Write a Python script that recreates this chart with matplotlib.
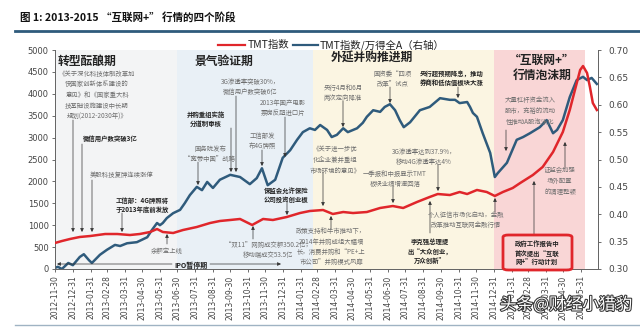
import numpy as np
import pandas as pd
import matplotlib
matplotlib.use('Agg')
import matplotlib.pyplot as plt
from matplotlib.patches import FancyBboxPatch
import matplotlib.patheffects as pe

plt.rcParams['font.family'] = ['Noto Sans CJK SC', 'DejaVu Sans']

# ---------------- data ----------------
tmt_dates = ['2012-11-30', '2012-12-12', '2012-12-26', '2013-01-12', '2013-01-30', '2013-02-25',
             '2013-03-18', '2013-04-09', '2013-04-26', '2013-05-14', '2013-05-26', '2013-06-05',
             '2013-06-23', '2013-07-10', '2013-08-03', '2013-08-26', '2013-09-12', '2013-09-30',
             '2013-10-17', '2013-11-07', '2013-11-26', '2013-12-13', '2014-01-06', '2014-01-29',
             '2014-02-15', '2014-03-10', '2014-03-27', '2014-04-14', '2014-05-01', '2014-05-25',
             '2014-06-17', '2014-07-09', '2014-07-27', '2014-08-20', '2014-09-11', '2014-09-25',
             '2014-10-16', '2014-11-02', '2014-11-15', '2014-12-02', '2014-12-19', '2015-01-02',
             '2015-01-16', '2015-02-02', '2015-02-15', '2015-03-09', '2015-03-26', '2015-04-13',
             '2015-04-30', '2015-05-12', '2015-05-21', '2015-05-30', '2015-06-04', '2015-06-11',
             '2015-06-16', '2015-06-21', '2015-06-28']
tmt_index = [594, 639, 685, 731, 753, 799, 799, 776, 799, 845, 913, 845,
             822, 890, 959, 1050, 1096, 1119, 1142, 1005, 1142, 1119, 1187, 1278,
             1324, 1347, 1256, 1301, 1278, 1301, 1393, 1438, 1393, 1530, 1644, 1712,
             1689, 1758, 1712, 1804, 1758, 1667, 1758, 1849, 1963, 2146, 2329, 2671,
             3128, 3630, 4087, 4543, 4634, 4475, 4155, 3790, 3630]

ratio_dates = ['2012-11-30', '2012-12-05', '2012-12-12', '2012-12-23', '2012-12-31', '2013-01-12',
               '2013-01-19', '2013-01-28', '2013-02-02', '2013-02-16', '2013-02-28', '2013-03-14',
               '2013-03-23', '2013-04-04', '2013-04-21', '2013-05-09', '2013-05-17', '2013-05-26',
               '2013-05-31', '2013-06-05', '2013-06-12', '2013-06-23', '2013-07-05', '2013-07-13',
               '2013-07-22', '2013-08-03', '2013-08-12', '2013-08-21', '2013-08-31', '2013-09-12',
               '2013-09-30', '2013-10-17', '2013-11-03', '2013-11-15', '2013-11-24', '2013-12-04',
               '2013-12-17', '2013-12-30', '2014-01-12', '2014-01-24', '2014-02-03', '2014-02-15',
               '2014-02-24', '2014-03-05', '2014-03-17', '2014-03-25', '2014-04-03', '2014-04-14',
               '2014-04-22', '2014-05-08', '2014-05-18', '2014-05-25', '2014-06-05', '2014-06-17',
               '2014-06-25', '2014-07-04', '2014-07-13', '2014-07-21', '2014-07-28', '2014-08-08',
               '2014-08-25', '2014-09-11', '2014-09-29', '2014-10-16', '2014-10-25', '2014-11-02',
               '2014-11-15', '2014-11-20', '2014-11-25', '2014-12-02', '2014-12-12', '2014-12-25',
               '2015-01-02', '2015-01-07', '2015-01-23', '2015-02-09', '2015-02-20', '2015-03-04',
               '2015-03-21', '2015-04-02', '2015-04-13', '2015-04-20', '2015-04-30', '2015-05-12',
               '2015-05-24', '2015-06-04', '2015-06-11', '2015-06-19', '2015-06-28']
tmt_ratio = [0.302, 0.304, 0.300, 0.311, 0.307, 0.322, 0.327, 0.316, 0.311, 0.326, 0.335, 0.344,
             0.342, 0.347, 0.349, 0.358, 0.371, 0.384, 0.380, 0.384, 0.393, 0.402, 0.408, 0.420,
             0.435, 0.450, 0.444, 0.459, 0.448, 0.463, 0.472, 0.468, 0.455, 0.466, 0.484, 0.453,
             0.463, 0.503, 0.517, 0.536, 0.550, 0.557, 0.554, 0.563, 0.554, 0.541, 0.545, 0.557,
             0.550, 0.557, 0.567, 0.578, 0.590, 0.587, 0.596, 0.601, 0.590, 0.572, 0.559, 0.568,
             0.590, 0.596, 0.612, 0.609, 0.609, 0.603, 0.605, 0.596, 0.585, 0.578, 0.548, 0.512,
             0.468, 0.475, 0.494, 0.536, 0.541, 0.548, 0.559, 0.572, 0.548, 0.554, 0.572, 0.614,
             0.645, 0.651, 0.645, 0.649, 0.638]

phase_names = ['转型酝酿期', '景气验证期', '外延并购推进期', '“互联网+”\n行情泡沫期']
phase_edges = ['2012-11-30', '2013-06-30', '2014-02-20', '2014-12-31', '2015-06-08']
phase_colors = ['#f3f4f5', '#e9f0f6', '#fbf5e2', '#f9d6d6']

tick_dates = pd.date_range('2012-11-30', '2015-05-31', freq='ME')

# ---------------- figure ----------------
W, H = 640, 328
fig = plt.figure(figsize=(6.4, 3.28), dpi=100)
fig.patch.set_facecolor('white')

L, R, T, B = 55, 598, 50, 269
ax = fig.add_axes([L / W, 1 - B / H, (R - L) / W, (B - T) / H])
ax2 = ax.twinx()
ax.set_zorder(ax2.get_zorder() + 1)
ax.patch.set_visible(False)

x0 = pd.Timestamp('2012-11-30')
x1 = pd.Timestamp('2015-06-30')
ax.set_xlim(x0, x1)
ax.set_ylim(0, 5000)
ax2.set_ylim(0.30, 0.70)

edges = pd.to_datetime(phase_edges)
for i, c in enumerate(phase_colors):
    ax2.axvspan(edges[i], edges[i + 1], ymin=0, ymax=1.01, color=c, lw=0, zorder=0)

ax2.plot(pd.to_datetime(ratio_dates), tmt_ratio, color='#2f5b7c', lw=1.8, zorder=3)
ax.plot(pd.to_datetime(tmt_dates), tmt_index, color='#e0262b', lw=1.8, zorder=3)

ax.set_xticks(tick_dates)
ax.set_xticklabels([d.strftime('%Y-%m-%d') for d in tick_dates], rotation=90,
                   fontsize=5.5, color='#444', family='DejaVu Sans')
ax.set_yticks(np.arange(0, 5001, 500))
ax.set_yticklabels([str(v) for v in range(0, 5001, 500)], fontsize=6, color='#444', family='DejaVu Sans')
ax2.set_yticks(np.arange(0.30, 0.701, 0.05))
ax2.set_yticklabels(['%.2f' % v for v in np.arange(0.30, 0.701, 0.05)], fontsize=6.5,
                    color='#444', family='DejaVu Sans')
for a in (ax, ax2):
    a.tick_params(length=2.5, width=0.6, color='#555', pad=2)
    a.spines['top'].set_visible(False)
    for s in ('left', 'right', 'bottom'):
        a.spines[s].set_color('#666')
        a.spines[s].set_linewidth(0.7)
ax2.tick_params(axis='y', pad=5)


# image pixel -> axes fraction (for annotation placement)
def P(px, py):
    return ((px - L) / (R - L), (B - py) / (B - T))


GRAY = '#6f6f6f'
DARK = '#222222'

# phase titles
for name, (px, py) in zip(phase_names, [(87, 61), (224, 61), (372, 58), (542, 68)]):
    ax.text(*P(px, py), name, transform=ax.transAxes, ha='center', va='center',
            fontsize=8.5, color='#222', fontweight='bold', linespacing=1.25, zorder=5)

# annotation texts: (text, px, py, color, bold)
notes = [
    ('《关于深化科技体制改革加\n快国家创新体系建设的\n意见》和《国家重大科\n技基础设施建设中长期\n规划(2012-2030年)》', 97, 95, GRAY, False),
    ('微信用户数突破3亿', 110, 139, DARK, True),
    ('美股科技复牌连续涨停', 122, 175, GRAY, False),
    ('工信部：4G牌照将\n于2013年底前发放', 142, 205, DARK, True),
    ('余额宝上线', 167, 251, GRAY, False),
    ('并购重组实施\n分道制审核', 206, 119, DARK, True),
    ('国务院发布\n“宽带中国”战略', 210, 154, GRAY, False),
    ('3G渗透率突破30%，\n微信用户数突破6亿', 250, 87, GRAY, False),
    ('2013年国产电影\n票房反超进口片', 283, 108, GRAY, False),
    ('工信部发\n布4G牌照', 262, 141, GRAY, False),
    ('“双11”网购成交额350.2亿，\n移动端成交53.5亿', 268, 250, GRAY, False),
    ('保监会允许保险\n公司投资创业板', 286, 195, DARK, True),
    ('央行4月和6月\n两次定向降准', 343, 93, GRAY, False),
    ('国资委“四项\n改革”试点', 393, 79, GRAY, False),
    ('央行超预期降息，推动\n券商和低估值板块大涨', 452, 78, DARK, True),
    ('《关于进一步优\n化企业兼并重组\n市场环境的意见》', 335, 160, GRAY, False),
    ('一季报和中报显示TMT\n板块业绩增速回落', 395, 179, GRAY, False),
    ('3G渗透率达到37.9%，\n移动4G渗透率达4%', 424, 157, GRAY, False),
    ('政策支持和牛市推动下，\n2014年并购成组大幅增\n长，消费并购和“PE+上\n市公司”并购模式风靡', 331, 247, GRAY, False),
    ('李克强总理提\n出“大众创业，\n万众创新”', 430, 251, DARK, True),
    ('个人征信市场化启动，金融\n改革推动互联网金融行情', 466, 220, GRAY, False),
    ('大量杠杆资金流入\n股市，充裕的流动\n性推动A股泡沫化', 530, 111, GRAY, False),
    ('证监会加强\n场外配置\n的清理整顿', 560, 181, GRAY, False),
    ('政府工作报告中\n首次提出“互联\n网+”行动计划', 537, 253, DARK, True),
]
for txt, px, py, col, bold in notes:
    ax.text(*P(px, py), txt, transform=ax.transAxes, ha='center', va='center', fontsize=4.6,
            color=col, fontweight='bold' if bold else 'normal', linespacing=1.45, zorder=5)

# arrows: (px, py_from, py_to)
arrows = [(73, 120, 232), (82, 144, 232), (92, 180, 232), (122, 213, 232), (167, 244, 234),
          (198, 162, 185), (231, 128, 172), (236, 96, 172), (262, 150, 166), (285, 117, 157),
          (253, 239, 226), (287, 201, 215), (343, 101, 127), (390, 87, 103), (458, 87, 98),
          (323, 172, 206), (393, 185, 203), (438, 165, 191), (331, 229, 216), (430, 233, 201),
          (495, 212, 198), (506, 130, 151), (565, 168, 142), (534, 235, 181)]
for px, ya, yb in arrows:
    ax.annotate('', xy=P(px, yb), xytext=P(px, ya), xycoords='axes fraction',
                textcoords='axes fraction', zorder=4,
                arrowprops=dict(arrowstyle='-|>', color='#333', lw=0.5,
                                mutation_scale=5, shrinkA=0, shrinkB=0))

# IPO suspension span
ax.text(*P(191, 265), 'IPO暂停期', transform=ax.transAxes, ha='center', va='center',
        fontsize=5, color=DARK, fontweight='bold', zorder=5)
ax.annotate('', xy=P(57, 264), xytext=P(172, 264), xycoords='axes fraction', textcoords='axes fraction',
            arrowprops=dict(arrowstyle='-|>', color='#333', lw=0.5, mutation_scale=5,
                            shrinkA=0, shrinkB=0), zorder=4)
ax.annotate('', xy=P(281, 264), xytext=P(210, 264), xycoords='axes fraction', textcoords='axes fraction',
            arrowprops=dict(arrowstyle='-|>', color='#333', lw=0.5, mutation_scale=5,
                            shrinkA=0, shrinkB=0), zorder=4)

# red box around government work report note
bx0, by0 = P(503, 270)
bx1, by1 = P(572, 235)
ax.add_patch(FancyBboxPatch((bx0, by0), bx1 - bx0, by1 - by0, boxstyle='round,pad=0,rounding_size=0.01',
                            transform=ax.transAxes, fill=False, ec='#e0262b', lw=2, zorder=5,
                            clip_on=False))

# legend (sits just above the plot area, below the title rule)
LY = 1 - 45 / H
fig.add_artist(plt.Line2D([218 / W, 245 / W], [LY] * 2, color='#e0262b', lw=1.6))
fig.text(248 / W, LY, 'TMT指数', fontsize=7.5, va='center', color='#222')
fig.add_artist(plt.Line2D([293 / W, 318 / W], [LY] * 2, color='#2f5b7c', lw=1.6))
fig.text(320 / W, LY, 'TMT指数/万得全A（右轴）', fontsize=7.5, va='center', color='#222')

# title and rules
fig.text(20 / W, 1 - 17 / H, '图 1: 2013-2015 “互联网+” 行情的四个阶段', fontsize=7.6,
         fontweight='bold', va='center', color='#111')
fig.add_artist(plt.Line2D([15 / W, 1], [1 - 31 / H] * 2, color='#2f5b7c', lw=2))
fig.add_artist(plt.Line2D([15 / W, 1], [1 - 325 / H] * 2, color='#9fb3c3', lw=1))

# watermark
fig.text(632 / W, 1 - 305 / H, '头条@财经小猎豹', fontsize=12, ha='right', va='center', color='white',
         zorder=10, path_effects=[pe.withStroke(linewidth=1.5, foreground='#333')])

fig.savefig('out.png', dpi=100, facecolor='white')
